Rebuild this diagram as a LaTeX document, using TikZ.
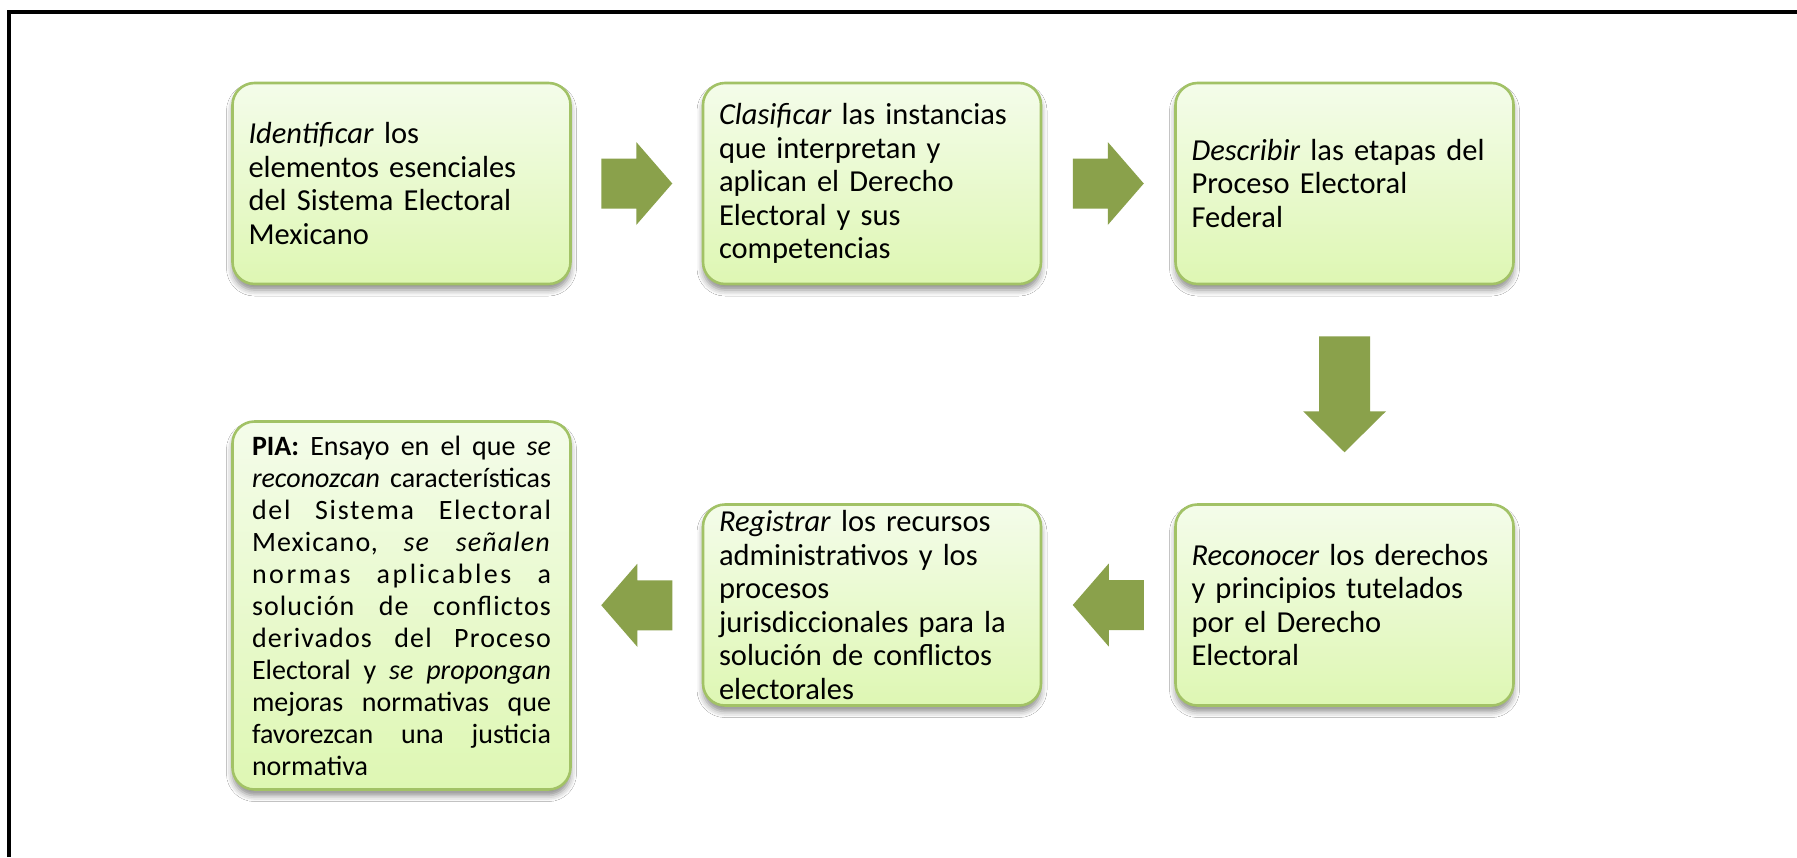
\documentclass[tikz,border=0pt]{standalone}
\usepackage{fontspec}
\setmainfont{Carlito}
\usetikzlibrary{shadows.blur,calc}
\definecolor{boxtop}{HTML}{F4FCEA}
\definecolor{boxbot}{HTML}{DEF7B3}
\definecolor{boxline}{HTML}{A2C266}
\definecolor{arrowgreen}{HTML}{8AA14B}
\tikzset{
  stepbox/.style={rectangle, rounded corners=11pt, draw=boxline, line width=1.3pt,
    top color=boxtop, bottom color=boxbot,
    minimum width=169pt, minimum height=100.5pt, text width=153pt,
    inner xsep=8pt, inner ysep=0pt, align=left,
    font=\fontsize{15.25}{16.75}\selectfont,
    blur shadow={shadow xshift=0pt, shadow yshift=-3pt, shadow blur radius=3pt, shadow opacity=45}},
  piabox/.style={stepbox, minimum height=184pt, text width=149.5pt, inner xsep=9.75pt,
    font=\fontsize{14}{16}\selectfont},
  rarrow/.pic={\fill[arrowgreen] (-35.5,-25) -- (-0.5,-25) -- (-0.5,-41.5) -- (35.5,0)
    -- (-0.5,41.5) -- (-0.5,25) -- (-35.5,25) -- cycle;},
  darrow/.pic={\fill[arrowgreen] (-25.5,-58) -- (25.5,-58) -- (25.5,17) -- (41.5,17) -- (0,58)
    -- (-41.5,17) -- (-25.5,17) -- cycle;}
}
\newcommand\pialine[2][0]{\leavevmode\hbox to 149.5pt{\addfontfeature{LetterSpace=#1}#2}}
\newcommand\gap{\hspace{0pt plus 1fill}}
\begin{document}
\begin{tikzpicture}[x=0.5pt,y=-0.5pt]
\useasboundingbox (0,0) rectangle (1797,857);
\fill[white] (0,0) rectangle (1797,857);
\draw[line width=1.6pt] (9,857) -- (9,12) -- (1797,12);

\node[stepbox] (b1) at (401.5,183.5) {\textit{Identificar} los\\elementos esenciales\\del Sistema Electoral\\Mexicano};
\node[stepbox] (b2) at (872,183.5) {\textit{Clasificar} las instancias\\que interpretan y\\aplican el Derecho\\Electoral y sus\\competencias};
\node[stepbox] (b3) at (1344.5,183.5) {\textit{Describir} las etapas del\\Proceso Electoral\\Federal};
\node[stepbox] (b4) at (1344.5,605) {\textit{Reconocer} los derechos\\y principios tutelados\\por el Derecho\\Electoral};
\node[stepbox] (b5) at (872,605) {\textit{Registrar} los recursos\\administrativos y los\\procesos\\jurisdiccionales para la\\solución de conflictos\\electorales};
\node[piabox] (b6) at (401.5,605.5) {%
\pialine{\textbf{PIA:}\gap Ensayo\gap en\gap el\gap que\gap \textit{se}}\\
\pialine{\textit{reconozcan}\gap características}\\
\pialine[6]{del\gap Sistema\gap Electoral}\\
\pialine[4]{Mexicano,\gap \textit{se}\gap \textit{señalen}}\\
\pialine[9]{normas\gap aplicables\gap a}\\
\pialine[4]{solución\gap de\gap conflictos}\\
\pialine[4]{derivados\gap del\gap Proceso}\\
\pialine{Electoral\gap y\gap \textit{se}\gap \textit{propongan}}\\
\pialine{mejoras\gap normativas\gap que}\\
\pialine{favorezcan\gap una\gap justicia}\\
normativa};

\pic at ($(b1.east)!0.5!(b2.west)$) {rarrow};
\pic at ($(b2.east)!0.5!(b3.west)$) {rarrow};
\pic at ($(b3.south)!0.5!(b4.north)$) {darrow};
\pic[rotate=180] at ($(b4.west)!0.5!(b5.east)$) {rarrow};
\pic[rotate=180] at ($(b5.west)!0.5!(b6.east)$) {rarrow};
\end{tikzpicture}
\end{document}
